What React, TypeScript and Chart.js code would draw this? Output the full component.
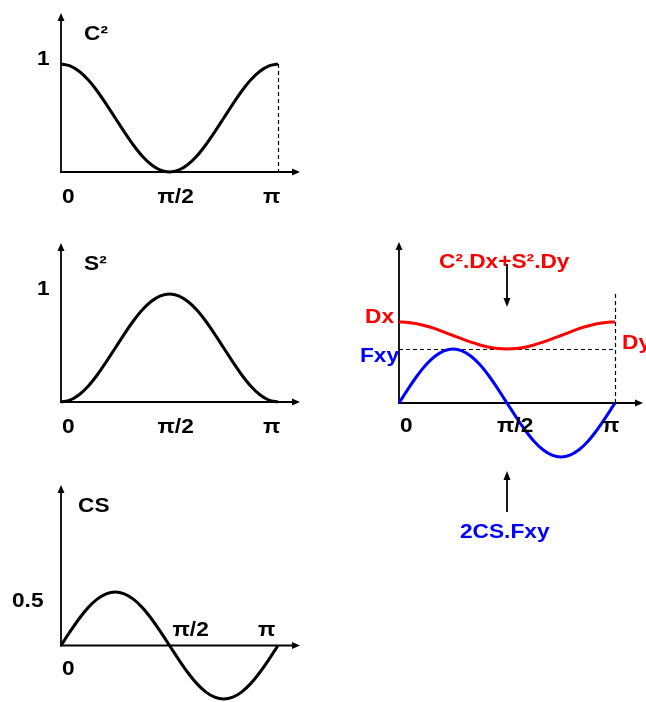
import React, { useEffect, useRef } from "react";
import { Chart, registerables } from "chart.js";

Chart.register(...registerables);

// ---------- data (angle in degrees) ----------
const ANGLE_DEG = [0, 7.5, 15, 22.5, 30, 37.5, 45, 52.5, 60, 67.5, 75, 82.5, 90, 97.5, 105, 112.5, 120, 127.5, 135, 142.5, 150, 157.5, 165, 172.5, 180];
const C2_VALUES = [1, 0.983, 0.933, 0.854, 0.75, 0.629, 0.5, 0.371, 0.25, 0.146, 0.067, 0.017, 0, 0.017, 0.067, 0.146, 0.25, 0.371, 0.5, 0.629, 0.75, 0.854, 0.933, 0.983, 1];
const S2_VALUES = [0, 0.017, 0.067, 0.146, 0.25, 0.371, 0.5, 0.629, 0.75, 0.854, 0.933, 0.983, 1, 0.983, 0.933, 0.854, 0.75, 0.629, 0.5, 0.371, 0.25, 0.146, 0.067, 0.017, 0];
const CS_VALUES = [0, 0.129, 0.25, 0.354, 0.433, 0.483, 0.5, 0.483, 0.433, 0.354, 0.25, 0.129, 0, -0.129, -0.25, -0.354, -0.433, -0.483, -0.5, -0.483, -0.433, -0.354, -0.25, -0.129, 0];
const NORMAL_VALUES = [0.75, 0.746, 0.733, 0.713, 0.688, 0.657, 0.625, 0.593, 0.563, 0.537, 0.517, 0.504, 0.5, 0.504, 0.517, 0.537, 0.563, 0.593, 0.625, 0.657, 0.688, 0.713, 0.733, 0.746, 0.75];
const SHEAR_VALUES = [0, 0.129, 0.25, 0.354, 0.433, 0.483, 0.5, 0.483, 0.433, 0.354, 0.25, 0.129, 0, -0.129, -0.25, -0.354, -0.433, -0.483, -0.5, -0.483, -0.433, -0.354, -0.25, -0.129, 0];
const DX = 0.75;
const DY = 0.5;
const TICK_VALUES = [0, 90, 180];
const TICK_LABELS = ["0", "π/2", "π"];

// ---------- styling ----------
const W = 646;
const H = 702;
const FONT = 'bold 21px "Liberation Sans", Arial, sans-serif';
const STRETCH = 1.08;
const BLACK = "#000000";
const RED = "#ff0000";
const BLUE = "#0000ff";

function pts(values: number[]) {
  return ANGLE_DEG.map((a, i) => ({ x: a, y: values[i] }));
}

function text(ctx: CanvasRenderingContext2D, s: string, x: number, y: number, color = BLACK) {
  ctx.save();
  ctx.fillStyle = color;
  ctx.font = FONT;
  ctx.textAlign = "left";
  ctx.textBaseline = "alphabetic";
  ctx.translate(x, y);
  ctx.scale(STRETCH, 1);
  ctx.fillText(s, 0, 0);
  ctx.restore();
}

function head(ctx: CanvasRenderingContext2D, x: number, y: number, dir: string, len = 8, half = 3.5) {
  ctx.save();
  ctx.fillStyle = BLACK;
  ctx.beginPath();
  if (dir === "up") {
    ctx.moveTo(x, y);
    ctx.lineTo(x - half, y + len);
    ctx.lineTo(x + half, y + len);
  } else if (dir === "down") {
    ctx.moveTo(x, y);
    ctx.lineTo(x - half, y - len);
    ctx.lineTo(x + half, y - len);
  } else {
    ctx.moveTo(x, y);
    ctx.lineTo(x - len, y - half);
    ctx.lineTo(x - len, y + half);
  }
  ctx.closePath();
  ctx.fill();
  ctx.restore();
}

function line(ctx: CanvasRenderingContext2D, x1: number, y1: number, x2: number, y2: number, width = 1.8, dash: number[] = []) {
  ctx.save();
  ctx.strokeStyle = BLACK;
  ctx.lineWidth = width;
  ctx.setLineDash(dash);
  ctx.beginPath();
  ctx.moveTo(x1, y1);
  ctx.lineTo(x2, y2);
  ctx.stroke();
  ctx.restore();
}

type Spec = {
  padding: { left: number; right: number; top: number; bottom: number };
  yMin: number;
  yMax: number;
  datasets: { values: number[]; color: string }[];
  axisTop: number;
  axisRight: number;
  under?: (ctx: CanvasRenderingContext2D, px: (v: number) => number, py: (v: number) => number) => void;
  over: (ctx: CanvasRenderingContext2D, px: (v: number) => number, py: (v: number) => number) => void;
};

const SPECS: Spec[] = [
  {
    padding: { left: 61, right: W - 278, top: 64, bottom: H - 172 },
    yMin: 0,
    yMax: 1,
    datasets: [{ values: C2_VALUES, color: BLACK }],
    axisTop: 13,
    axisRight: 300,
    under: (ctx, px, py) => {
      line(ctx, px(180) + 0.5, py(1), px(180) + 0.5, py(0), 1.2, [4, 3]);
    },
    over: (ctx, px, py) => {
      text(ctx, "C²", 84, 40);
      text(ctx, "1", 37, 65);
      const dx = [1, -12, -15];
      TICK_VALUES.forEach((v, i) => text(ctx, TICK_LABELS[i], px(v) + dx[i], py(0) + 31));
    },
  },
  {
    padding: { left: 61, right: W - 278, top: 294, bottom: H - 402 },
    yMin: 0,
    yMax: 1,
    datasets: [{ values: S2_VALUES, color: BLACK }],
    axisTop: 243,
    axisRight: 300,
    over: (ctx, px, py) => {
      text(ctx, "S²", 84, 270);
      text(ctx, "1", 37, 295);
      const dx = [1, -12, -15];
      TICK_VALUES.forEach((v, i) => text(ctx, TICK_LABELS[i], px(v) + dx[i], py(0) + 31));
    },
  },
  {
    padding: { left: 61, right: W - 278, top: 592, bottom: H - 699 },
    yMin: -0.5,
    yMax: 0.5,
    datasets: [{ values: CS_VALUES, color: BLACK }],
    axisTop: 485,
    axisRight: 300,
    over: (ctx, px, py) => {
      text(ctx, "CS", 78, 512);
      text(ctx, "0.5", 12, 607);
      const dx = [1, 3, -20];
      const dy = [29.5, -9.5, -9.5];
      TICK_VALUES.forEach((v, i) => text(ctx, TICK_LABELS[i], px(v) + dx[i], py(0) + dy[i]));
    },
  },
  {
    padding: { left: 399, right: W - 615, top: 295, bottom: H - 457 },
    yMin: -0.5,
    yMax: 1,
    datasets: [
      { values: NORMAL_VALUES, color: RED },
      { values: SHEAR_VALUES, color: BLUE },
    ],
    axisTop: 242,
    axisRight: 643,
    under: (ctx, px, py) => {
      line(ctx, px(0), py(DY) + 0.5, px(180), py(DY) + 0.5, 1.2, [4, 3]);
      line(ctx, px(180) + 0.5, 294, px(180) + 0.5, py(0), 1.2, [4, 3]);
    },
    over: (ctx, px, py) => {
      text(ctx, "C².Dx+S².Dy", 439, 268, RED);
      text(ctx, "2CS.Fxy", 460, 538, BLUE);
      text(ctx, "Dx", 365, py(DX) + 1, RED);
      text(ctx, "Fxy", 360, 362, BLUE);
      text(ctx, "Dy", 622, py(DY), RED);
      const dx = [1, -10, -13];
      TICK_VALUES.forEach((v, i) => text(ctx, TICK_LABELS[i], px(v) + dx[i], py(0) + 29));
      // annotation arrows
      line(ctx, px(90), 264, px(90), 300, 1.8);
      head(ctx, px(90), 307, "down", 9, 3.5);
      line(ctx, px(90), 512, px(90), 478, 1.8);
      head(ctx, px(90), 471, "up", 9, 3.5);
    },
  },
];

function build(canvas: HTMLCanvasElement, spec: Spec) {
  const deco = {
    id: "deco",
    beforeDatasetsDraw(chart: any) {
      const ctx = chart.ctx as CanvasRenderingContext2D;
      const px = (v: number) => chart.scales.x.getPixelForValue(v);
      const py = (v: number) => chart.scales.y.getPixelForValue(v);
      const ox = px(0);
      const oy = py(0);
      if (spec.under) spec.under(ctx, px, py);
      line(ctx, ox, oy + 1, ox, spec.axisTop + 6);
      head(ctx, ox, spec.axisTop, "up", 8, 3.5);
      line(ctx, ox - 1, oy, spec.axisRight - 6, oy);
      head(ctx, spec.axisRight, oy, "right", 8, 3.5);
    },
    afterDraw(chart: any) {
      const ctx = chart.ctx as CanvasRenderingContext2D;
      const px = (v: number) => chart.scales.x.getPixelForValue(v);
      const py = (v: number) => chart.scales.y.getPixelForValue(v);
      spec.over(ctx, px, py);
    },
  };
  return new Chart(canvas, {
    type: "line",
    data: {
      datasets: spec.datasets.map((d) => ({
        data: pts(d.values),
        borderColor: d.color,
        backgroundColor: d.color,
        borderWidth: 3,
        pointRadius: 0,
        fill: false,
        cubicInterpolationMode: "monotone",
        clip: false,
      })) as any,
    },
    options: {
      animation: false,
      responsive: false,
      maintainAspectRatio: false,
      devicePixelRatio: 1,
      layout: { padding: spec.padding },
      events: [],
      plugins: { legend: { display: false }, tooltip: { enabled: false }, title: { display: false } },
      scales: {
        x: { type: "linear", min: 0, max: 180, display: false },
        y: { type: "linear", min: spec.yMin, max: spec.yMax, display: false },
      },
    },
    plugins: [deco],
  });
}

export default function App() {
  const refs = [useRef<HTMLCanvasElement>(null), useRef<HTMLCanvasElement>(null), useRef<HTMLCanvasElement>(null), useRef<HTMLCanvasElement>(null)];
  useEffect(() => {
    const charts = SPECS.map((s, i) => build(refs[i].current as HTMLCanvasElement, s));
    return () => charts.forEach((c) => c.destroy());
  }, []);
  return (
    <div style={{ position: "fixed", left: 0, top: 0, width: W, height: H, overflow: "hidden", background: "#fff" }}>
      {refs.map((r, i) => (
        <canvas key={i} ref={r} width={W} height={H} style={{ position: "absolute", left: 0, top: 0, width: W, height: H }} />
      ))}
    </div>
  );
}
